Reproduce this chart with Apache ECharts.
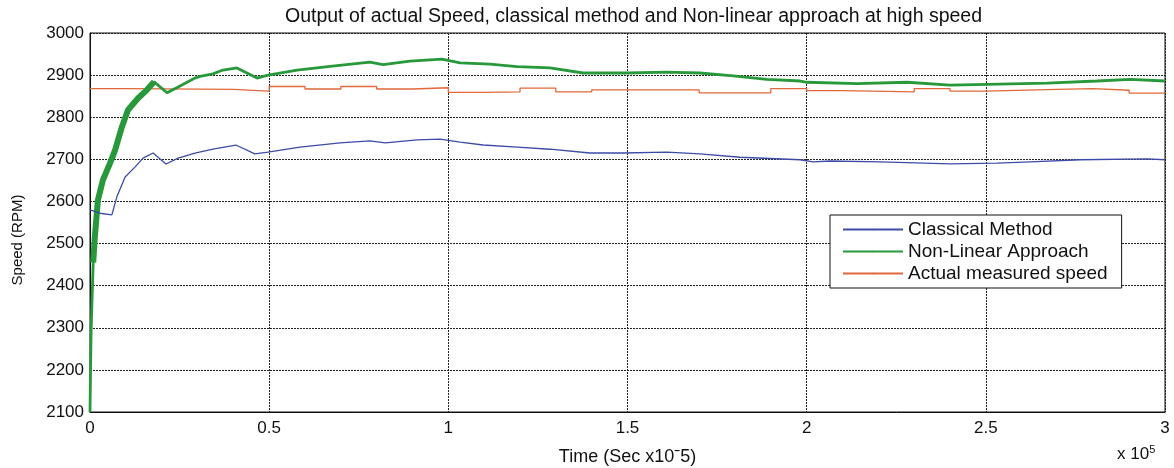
<!DOCTYPE html>
<html>
<head>
<meta charset="utf-8">
<script src="https://cdn.jsdelivr.net/npm/echarts@6/dist/echarts.min.js"></script>
<style>
  html, body { margin: 0; padding: 0; background: #fff; }
  #main { width: 1174px; height: 468px; }
</style>
</head>
<body>
<div id="main"></div>
<script>
const chartContainer = echarts.init(document.getElementById("main"));

// time is in units of 1e5 (axis shows "x 10^5")
const xTicks = [0, 0.5, 1, 1.5, 2, 2.5, 3];

const classicalMethod = [
  [0, 2580], [0.028, 2572], [0.061, 2568], [0.075, 2611], [0.098, 2658],
  [0.126, 2682], [0.148, 2703], [0.176, 2715], [0.212, 2689], [0.246, 2703],
  [0.293, 2715], [0.343, 2724], [0.407, 2734], [0.46, 2713], [0.497, 2717],
  [0.586, 2729], [0.698, 2739], [0.781, 2744], [0.824, 2739], [0.913, 2746],
  [0.977, 2748], [1.033, 2741], [1.097, 2734], [1.192, 2729], [1.284, 2724],
  [1.395, 2715], [1.488, 2715], [1.61, 2717], [1.702, 2713], [1.814, 2705],
  [1.982, 2699], [2.018, 2694], [2.065, 2696], [2.205, 2694], [2.4, 2689],
  [2.531, 2691], [2.624, 2694], [2.763, 2699], [2.95, 2701], [3.0, 2699],
];

const nonLinearApproach = [
  [0, 2100], [0.003, 2290], [0.006, 2375], [0.009, 2455], [0.013, 2510],
  [0.022, 2603], [0.036, 2651], [0.056, 2691], [0.07, 2722], [0.089, 2777],
  [0.106, 2817], [0.134, 2845], [0.159, 2865], [0.179, 2884], [0.215, 2858],
  [0.246, 2872], [0.293, 2893], [0.307, 2897], [0.343, 2903], [0.371, 2912],
  [0.41, 2917], [0.466, 2893], [0.497, 2900], [0.578, 2912], [0.67, 2921],
  [0.781, 2931], [0.818, 2925], [0.893, 2933], [0.982, 2938], [1.033, 2929],
  [1.116, 2926], [1.192, 2920], [1.284, 2917], [1.376, 2905], [1.499, 2905],
  [1.61, 2907], [1.702, 2905], [1.795, 2898], [1.889, 2890], [1.982, 2886],
  [2.001, 2883], [2.141, 2880], [2.28, 2883], [2.4, 2876], [2.503, 2878],
  [2.671, 2881], [2.81, 2886], [2.903, 2890], [3.0, 2886],
];

// the start-up part of the non-linear trace is a thick noisy band
const nonLinearBand = [
  [0.009, 2455], [0.013, 2510], [0.022, 2603], [0.036, 2651], [0.056, 2691],
  [0.07, 2722], [0.089, 2777], [0.106, 2817], [0.134, 2845], [0.159, 2865],
  [0.179, 2884],
];

// step values, each held until the next point
const actualSpeed = [
  [0, 2868], [0.1, 2866], [0.4, 2862], [0.5, 2873], [0.6, 2867],
  [0.7, 2873], [0.8, 2867], [0.9, 2870], [1.0, 2859], [1.1, 2860],
  [1.2, 2869], [1.3, 2860], [1.4, 2865], [1.7, 2858], [1.9, 2868],
  [2.0, 2863], [2.1, 2860], [2.3, 2868], [2.4, 2862], [2.5, 2866],
  [2.7, 2868], [2.8, 2864], [2.9, 2857], [3.0, 2857],
];

const FONT = "Liberation Sans, Arial, sans-serif";
const gridLine = { show: true, lineStyle: { color: "#222", type: [2, 1], width: 1 } };
const BLUE = "#3c4ca6";
const GREEN = "#27993b";
const ORANGE = "#e0683a";

option = {
  animation: false,
  backgroundColor: "#fff",
  textStyle: { fontFamily: FONT },
  title: {
    text: "Output of actual Speed, classical method and Non-linear approach at high speed",
    left: 280,
    top: 2,
    textStyle: { fontSize: 19.5, fontWeight: "normal", color: "#111", fontFamily: FONT },
  },
  grid: {
    left: 90,
    right: 9,
    top: 33,
    bottom: 56,
    outerBoundsMode: "none",
    containLabel: false,
    show: true,
    borderColor: "#111",
    borderWidth: 1,
  },
  legend: {
    orient: "vertical",
    left: 830,
    top: 215,
    padding: [5, 14, 5, 12],
    itemGap: 3,
    itemWidth: 60,
    itemHeight: 2,
    backgroundColor: "#fff",
    borderColor: "#111",
    borderWidth: 1,
    borderRadius: 0,
    textStyle: { fontSize: 19, color: "#111", fontFamily: FONT },
    data: ["Classical Method", "Non-Linear Approach", "Actual measured speed"],
  },
  xAxis: {
    type: "value",
    min: 0,
    max: 3,
    interval: 0.5,
    name: "Time (Sec x10ˉ5)",
    nameLocation: "middle",
    nameGap: 36,
    nameTextStyle: { fontSize: 18, color: "#111", fontFamily: FONT },
    axisLine: { show: true, lineStyle: { color: "#111" } },
    axisTick: { show: false },
    axisLabel: { fontSize: 17, color: "#111", margin: 8, fontFamily: FONT },
    splitLine: gridLine,
  },
  yAxis: {
    type: "value",
    min: 2100,
    max: 3000,
    interval: 100,
    axisLine: { show: true, lineStyle: { color: "#111" } },
    axisTick: { show: false },
    axisLabel: {
      fontSize: 17,
      color: "#111",
      margin: 6,
      fontFamily: FONT,
      formatter: (v) => String(v),
    },
    splitLine: gridLine,
  },
  graphic: [
    {
      type: "text",
      left: 1117,
      top: 444,
      style: {
        text: "x 10{sup|5}",
        font: "17px " + FONT,
        fill: "#111",
        rich: { sup: { fontSize: 11, verticalAlign: "top", padding: [0, 0, 10, 0] } },
      },
    },
    {
      type: "text",
      x: 18,
      y: 240,
      rotation: Math.PI / 2,
      style: {
        text: "Speed (RPM)",
        font: "15px " + FONT,
        fill: "#111",
        align: "center",
        verticalAlign: "middle",
      },
    },
  ],
  series: [
    {
      name: "Classical Method",
      type: "line",
      symbol: "none",
      data: classicalMethod,
      lineStyle: { color: BLUE, width: 1.3 },
      itemStyle: { color: BLUE },
      z: 3,
    },
    {
      name: "Non-Linear Approach",
      type: "line",
      symbol: "none",
      data: nonLinearApproach,
      lineStyle: { color: GREEN, width: 2.8 },
      itemStyle: { color: GREEN },
      z: 2,
    },
    {
      name: "nonLinearBand",
      type: "line",
      symbol: "none",
      data: nonLinearBand,
      lineStyle: { color: GREEN, width: 6 },
      itemStyle: { color: GREEN },
      z: 2,
    },
    {
      name: "Actual measured speed",
      type: "line",
      symbol: "none",
      step: "end",
      data: actualSpeed,
      lineStyle: { color: ORANGE, width: 1.3 },
      itemStyle: { color: ORANGE },
      z: 1,
    },
  ],
};

chartContainer.setOption(option);
</script>
</body>
</html>
